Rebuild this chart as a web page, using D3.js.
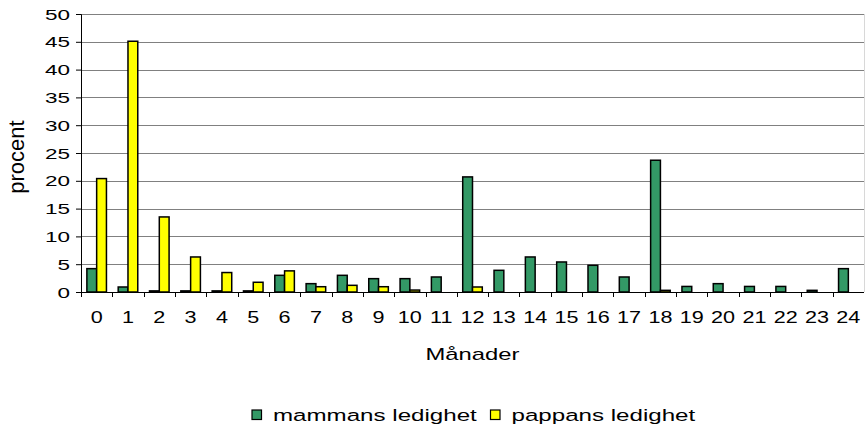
<!DOCTYPE html>
<html>
<head>
<meta charset="utf-8">
<script src="https://cdn.jsdelivr.net/npm/d3@7"></script>
<style>
  body { margin: 0; background: #fff; }
  text { font-family: "Liberation Sans", Arial, sans-serif; fill: #000; }
</style>
</head>
<body>
<svg id="chart" width="865" height="427"></svg>
<script>
// months 0..24
var months = d3.range(0, 25).map(String);
var mammans = [4.2, 0.9, 0.2, 0.2, 0.2, 0.2, 3.0, 1.5, 3.0, 2.4, 2.4, 2.7, 20.7, 3.9, 6.3, 5.4, 4.8, 2.7, 23.7, 1.0, 1.5, 1.0, 1.0, 0.3, 4.2];
var pappans = [20.4, 45.1, 13.5, 6.3, 3.5, 1.75, 3.8, 0.95, 1.2, 0.95, 0.35, 0, 0.9, 0, 0, 0, 0, 0, 0.3, 0, 0, 0, 0, 0, 0];
var yTicks = [0, 5, 10, 15, 20, 25, 30, 35, 40, 45, 50];
var seriesNames = ["mammans ledighet", "pappans ledighet"];
var colors = ["#339966", "#ffff00"];

var svg = d3.select("#chart");
var mLeft = 81, mRight = 864, mTop = 14, mBottom = 292;

// the original chart was stretched sideways, text gets the same stretch
function stretchedText(parent, tx, ty, f, size, anchor, str) {
  return parent.append("text")
    .attr("transform", "translate(" + tx + "," + ty + ") scale(" + f + ",1)")
    .attr("text-anchor", anchor)
    .attr("font-size", size)
    .text(str);
}

var x = d3.scaleBand().domain(months).range([mLeft, mRight]);
var x1 = d3.scaleBand().domain([0, 1]).range([0, x.bandwidth()]).paddingOuter(0.6);
var y = d3.scaleLinear().domain([0, 50]).range([mBottom, mTop]);

// gridlines
svg.append("g")
  .selectAll("line")
  .data(yTicks.slice(1))
  .enter().append("line")
  .attr("x1", mLeft).attr("x2", mRight)
  .attr("y1", function(d) { return Math.round(y(d)) + 0.5; })
  .attr("y2", function(d) { return Math.round(y(d)) + 0.5; })
  .attr("stroke", "#808080");
svg.append("line")
  .attr("x1", mRight + 0.5).attr("x2", mRight + 0.5)
  .attr("y1", mTop).attr("y2", mBottom)
  .attr("stroke", "#d8d8d8");

// bars
var rows = months.map(function(m, i) { return {m: m, v: [mammans[i], pappans[i]]}; });
var grp = svg.append("g").selectAll("g")
  .data(rows)
  .enter().append("g")
  .attr("transform", function(d) { return "translate(" + x(d.m) + ",0)"; });
grp.selectAll("rect")
  .data(function(d) { return d.v.map(function(v, k) { return {k: k, v: v}; }).filter(function(d) { return d.v > 0; }); })
  .enter().append("rect")
  .attr("x", function(d) { return x1(d.k); })
  .attr("width", x1.bandwidth())
  .attr("y", function(d) { return y(d.v); })
  .attr("height", function(d) { return y(0) - y(d.v); })
  .attr("fill", function(d) { return colors[d.k]; })
  .attr("stroke", "#000")
  .attr("stroke-width", 1.5);

// y axis: line and ticks from d3, labels drawn stretched
var yAxis = svg.append("g")
  .attr("transform", "translate(" + mLeft + ",0)")
  .call(d3.axisLeft(y).tickValues(yTicks).tickSize(5).tickFormat(""));
yAxis.select(".domain").attr("stroke", "#000");
yTicks.forEach(function(t) {
  stretchedText(svg, mLeft - 11, y(t) + 5.5, 1.5, 15, "end", t);
});

// x axis, ticks between categories
var xAxis = svg.append("g")
  .attr("transform", "translate(0," + mBottom + ")");
xAxis.append("line")
  .attr("x1", mLeft).attr("x2", mRight).attr("y1", 0.5).attr("y2", 0.5)
  .attr("stroke", "#000");
xAxis.selectAll(".tk")
  .data(months)
  .enter().append("line")
  .attr("class", "tk")
  .attr("x1", function(d) { return Math.round(x(d)) + 0.5; })
  .attr("x2", function(d) { return Math.round(x(d)) + 0.5; })
  .attr("y1", 0).attr("y2", 5)
  .attr("stroke", "#000");
months.forEach(function(m) {
  stretchedText(xAxis, x(m) + x.bandwidth() / 2, 31, 1.35, 16, "middle", m);
});

// axis titles
svg.append("text")
  .attr("transform", "translate(24,157) rotate(-90)")
  .attr("text-anchor", "middle")
  .attr("font-size", 22)
  .text("procent");
stretchedText(svg, (mLeft + mRight) / 2, 360, 1.4, 17, "middle", "Månader");

// legend
var lg = svg.append("g").attr("transform", "translate(252,410)");
seriesNames.forEach(function(name, i) {
  var item = lg.append("g").attr("transform", "translate(" + (i * 238.5) + ",0)");
  item.append("rect")
    .attr("width", 9.5).attr("height", 9.5)
    .attr("fill", colors[i])
    .attr("stroke", "#000").attr("stroke-width", 1.2);
  stretchedText(item, 21, 11, 1.42, 17, "start", name);
});
</script>
</body>
</html>
